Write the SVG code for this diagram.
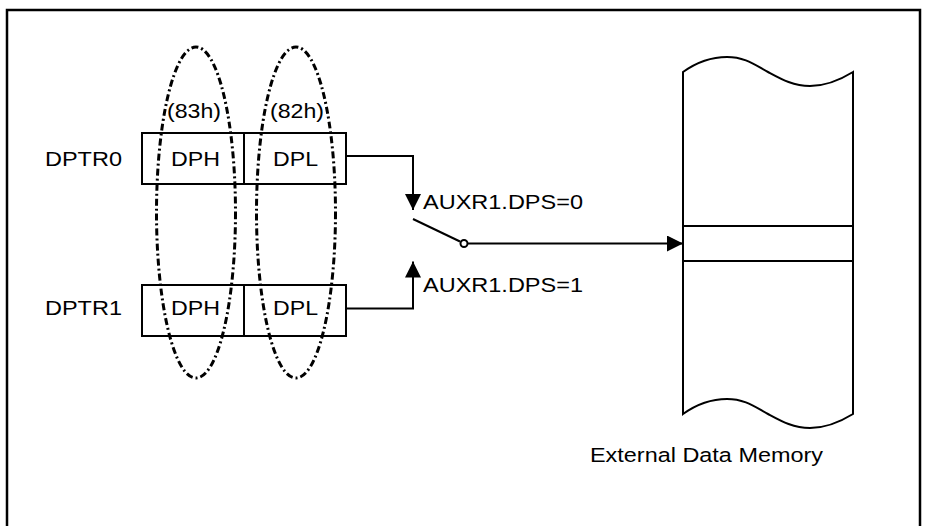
<svg xmlns="http://www.w3.org/2000/svg" width="927" height="526" viewBox="0 0 927 526">
<defs>
<style>
.t{font-family:"Liberation Sans",Arial,sans-serif;font-size:20.5px;fill:#000}
.ln{fill:none;stroke:#000;stroke-width:2}
.box{fill:#fff;stroke:#000;stroke-width:2}
.ell{fill:none;stroke:#000;stroke-width:3;stroke-dasharray:7 3 2 3}
</style>
<marker id="ah" viewBox="0 0 16 16" refX="16" refY="8" markerWidth="16" markerHeight="16" markerUnits="userSpaceOnUse" orient="auto">
<path d="M0,0 L16,8 L0,16 Z" fill="#000"/>
</marker>
</defs>
<rect width="927" height="526" fill="#fff"/>
<path d="M7,526 V10 H920 V526" fill="none" stroke="#000" stroke-width="2.5"/>

<g id="dptr0">
<rect class="box" x="142" y="133" width="204" height="51"/>
<line class="ln" x1="244" y1="133" x2="244" y2="184"/>
<text class="t" x="45" y="166" textLength="77" lengthAdjust="spacingAndGlyphs">DPTR0</text>
<text class="t" x="171" y="166" textLength="49" lengthAdjust="spacingAndGlyphs">DPH</text>
<text class="t" x="273" y="166" textLength="45" lengthAdjust="spacingAndGlyphs">DPL</text>
</g>

<g id="dptr1">
<rect class="box" x="142" y="285" width="204" height="51"/>
<line class="ln" x1="244" y1="285" x2="244" y2="336"/>
<text class="t" x="45" y="315" textLength="77" lengthAdjust="spacingAndGlyphs">DPTR1</text>
<text class="t" x="171" y="315" textLength="49" lengthAdjust="spacingAndGlyphs">DPH</text>
<text class="t" x="273" y="315" textLength="45" lengthAdjust="spacingAndGlyphs">DPL</text>
</g>

<g id="sfr83">
<ellipse class="ell" cx="196" cy="212.5" rx="39.5" ry="165.5"/>
<text class="t" x="167" y="118" textLength="54" lengthAdjust="spacingAndGlyphs">(83h)</text>
</g>
<g id="sfr82">
<ellipse class="ell" cx="296" cy="212.5" rx="39.5" ry="165.5"/>
<text class="t" x="270" y="118" textLength="54" lengthAdjust="spacingAndGlyphs">(82h)</text>
</g>

<g id="memory">
<path class="ln" d="M683,72 C697,62 712,57 727,57 C745,57 755,65 768,72 C781,79 793,86 810,86 C825,86 840,80 853,72 V414 C840,422 825,428 810,428 C793,428 781,421 768,414 C755,407 745,399 727,399 C712,399 697,404 683,414 Z" fill="#fff"/>
<line class="ln" x1="683" y1="226" x2="853" y2="226"/>
<line class="ln" x1="683" y1="261" x2="853" y2="261"/>
<text class="t" x="590" y="462" textLength="233" lengthAdjust="spacingAndGlyphs">External Data Memory</text>
</g>

<g id="switch">
<line class="ln" x1="413" y1="219" x2="460" y2="241.5"/>
<circle cx="464" cy="243.5" r="3.5" fill="#fff" stroke="#000" stroke-width="2"/>
<text class="t" x="423" y="209" textLength="160" lengthAdjust="spacingAndGlyphs">AUXR1.DPS=0</text>
<text class="t" x="423" y="292" textLength="160" lengthAdjust="spacingAndGlyphs">AUXR1.DPS=1</text>
</g>

<g id="connectors">
<path class="ln" d="M346,156 H413 V210" marker-end="url(#ah)"/>
<path class="ln" d="M346,308.5 H413 V261.5" marker-end="url(#ah)"/>
<path class="ln" d="M467.5,243.5 H683" marker-end="url(#ah)"/>
</g>
</svg>
